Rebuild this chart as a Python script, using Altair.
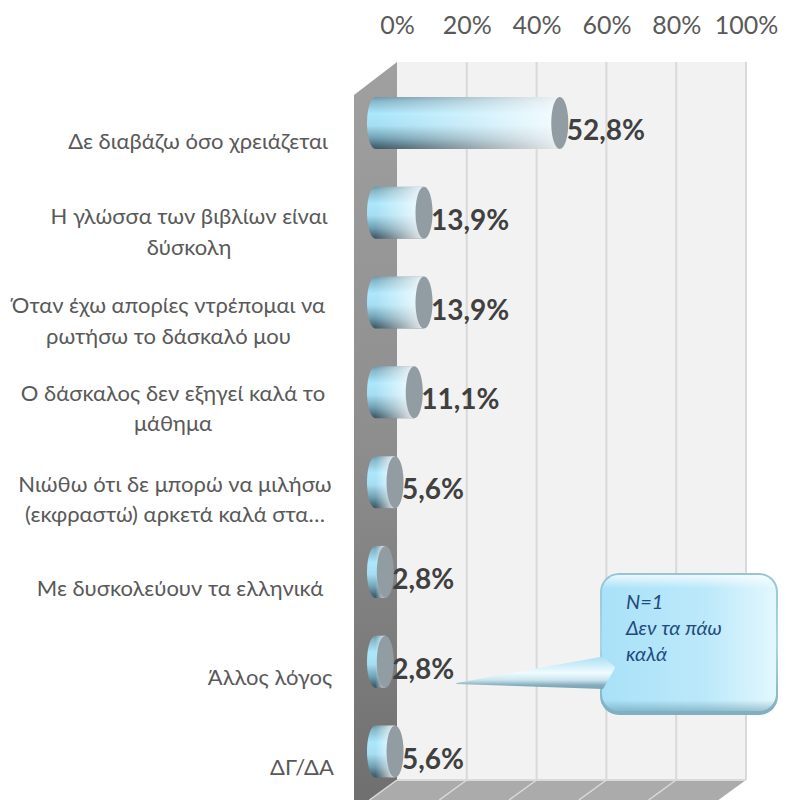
import altair as alt
import pandas as pd

# ---------- data ----------
categories = ["Δε διαβάζω όσο χρειάζεται", "Η γλώσσα των βιβλίων είναι δύσκολη",
              "Όταν έχω απορίες ντρέπομαι να ρωτήσω το δάσκαλό μου",
              "Ο δάσκαλος δεν εξηγεί καλά το μάθημα",
              "Νιώθω ότι δε μπορώ να μιλήσω (εκφραστώ) αρκετά καλά στα…",
              "Με δυσκολεύουν τα ελληνικά", "Άλλος λόγος", "ΔΓ/ΔΑ"]
values = [52.8, 13.9, 13.9, 11.1, 5.6, 2.8, 2.8, 5.6]
value_labels = ["52,8%", "13,9%", "13,9%", "11,1%", "5,6%", "2,8%", "2,8%", "5,6%"]
ticks = [0, 20, 40, 60, 80, 100]
label_lines = ["Δε διαβάζω όσο χρειάζεται", "Η γλώσσα των βιβλίων είναι", "δύσκολη",
               "Όταν έχω απορίες ντρέπομαι να", "ρωτήσω το δάσκαλό μου",
               "Ο δάσκαλος δεν εξηγεί καλά το", "μάθημα",
               "Νιώθω ότι δε μπορώ να μιλήσω", "(εκφραστώ) αρκετά καλά στα…",
               "Με δυσκολεύουν τα ελληνικά", "Άλλος λόγος", "ΔΓ/ΔΑ"]
callout_lines = ["N=1", "Δεν τα πάω", "καλά"]

# ---------- layout (page pixels, converted below) ----------
line_cx = [198, 189, 189, 168.5, 168.5, 173, 173, 175, 175, 180, 270, 302]
line_cy = [142, 217, 248, 306, 337, 394, 424, 485, 515, 589, 678, 768]
callout_cy = [603, 629, 655]
TOP, LEFT = 62, 8
PXW = 770
PPU = 3.49
ZERO = 397
BOTTOM = 800
W, H = PXW, BOTTOM - TOP
x_scale = alt.Scale(domain=[(LEFT - ZERO) / PPU, (LEFT + PXW - ZERO) / PPU], nice=False, zero=False)
y_scale = alt.Scale(type="point", domain=categories, range=[123 - TOP, 751.5 - TOP], padding=0)
def pct(px): return (px - ZERO) / PPU
FONT = "Lato, Noto Sans, sans-serif"
BAR_SHIFT = -21.5

def grad(stops, horiz=False):
    return alt.Gradient(gradient="linear",
                        stops=[alt.GradientStop(color=c, offset=o) for o, c in stops],
                        x1=0, x2=1 if horiz else 0, y1=0, y2=0 if horiz else 1)

df = pd.DataFrame({"cat": categories, "val": values, "lab": value_labels})
fd = (BOTTOM - 780) * 40 / 29
tick_df = pd.DataFrame({"t": ticks, "t2": [t - fd / PPU for t in ticks]})

X = lambda f: alt.X(f, scale=x_scale, axis=None)
YC = alt.Y("cat:N", scale=y_scale, axis=None)
YP = lambda f: alt.Y(f, scale=None, axis=None)

# back wall with top axis
wall_df = pd.DataFrame({"a": [0], "b": [100]})
wall = alt.Chart(wall_df).mark_rect(color="#F2F2F2").encode(
    x=alt.X("a:Q", scale=x_scale, axis=alt.Axis(
        orient="top", values=ticks, labelExpr="datum.value + '%'", domain=False, ticks=False,
        grid=False, labelFont=FONT, labelFontSize=25, labelColor="#595959", labelPadding=24, title=None,
        labelFlush=False, labelOverlap=False)),
    x2="b:Q", y=alt.value(0), y2=alt.value(780 - TOP))

grid = alt.Chart(tick_df[tick_df.t > 0]).mark_rule(color="#D9D9D9", strokeWidth=2).encode(
    x=X("t:Q"), y=alt.value(0), y2=alt.value(780 - TOP))

# left wall
lw_df = pd.DataFrame({"x": [pct(354), 0], "y": [95 - TOP, 0], "y2": [813 - TOP, 780 - TOP]})
left_wall = alt.Chart(lw_df).mark_area(
    orient="vertical",
    fill=grad([(0, "#A0A0A0"), (0.5, "#8E8E8E"), (1, "#6E6E6E")])).encode(
    x=X("x:Q"), y=YP("y:Q"), y2="y2:Q")

# floor
fl_df = pd.DataFrame({"y": [780 - TOP, BOTTOM - TOP], "a": [0, -fd / PPU], "b": [100, 100 - fd / PPU]})
floor = alt.Chart(fl_df).mark_area(orient="horizontal", color="#ABABAB").encode(
    y=YP("y:Q"), x=X("a:Q"), x2="b:Q")
floor_lines = alt.Chart(tick_df[tick_df.t < 100]).mark_rule(color="#DADADA", strokeWidth=1.5).encode(
    x=X("t:Q"), x2="t2:Q", y=alt.value(780 - TOP), y2=alt.value(BOTTOM - TOP))
floor_edge = alt.Chart(wall_df).mark_rule(color="#DADADA", strokeWidth=2).encode(
    x=X("a:Q"), x2="b:Q", y=alt.value(780 - TOP))

# cylinders
V_STOPS = [(0, "#6E97A8"), (0.08, "#86B7CA"), (0.32, "#ABE7FC"), (0.55, "#A5DEF2"),
           (0.8, "#6E9DB0"), (0.93, "#4A6B7A"), (1, "#3E5663")]
ELL = "M0,-1A0.327,1,0,1,1,0,1A0.327,1,0,1,1,0,-1Z"
left_cap = alt.Chart(df).mark_point(shape=ELL, size=2704, filled=True, opacity=1, strokeWidth=0,
                                    fill=grad(V_STOPS), xOffset=BAR_SHIFT).encode(
    x=alt.X("z:Q", scale=x_scale, axis=None), y=YC).transform_calculate(z="0")
body = alt.Chart(df).mark_bar(height=52, fill=grad(V_STOPS), xOffset=BAR_SHIFT, x2Offset=BAR_SHIFT).encode(
    x=X("val:Q"), y=YC)
sheen = alt.Chart(df).mark_bar(height=52, xOffset=BAR_SHIFT, x2Offset=BAR_SHIFT,
                               fill=grad([(0, "rgba(255,255,255,0)"), (1, "rgba(255,255,255,0.88)")], horiz=True)).encode(
    x=X("val:Q"), y=YC)
cap = alt.Chart(df).mark_point(shape=ELL, size=2704, filled=True, opacity=1, strokeWidth=0,
                               fill="#919CA3", xOffset=BAR_SHIFT).encode(x=X("val:Q"), y=YC)
val_text = alt.Chart(df).mark_text(align="left", baseline="middle", font=FONT, fontSize=28, fontWeight="bold",
                                   color="#404040", xOffset=BAR_SHIFT, dx=7, dy=9).encode(
    x=X("val:Q"), y=YC, text="lab:N")

# category labels
ln_df = pd.DataFrame({"s": label_lines, "cx": [c - LEFT for c in line_cx], "cy": [c - TOP for c in line_cy]})
cat_text = alt.Chart(ln_df).mark_text(align="center", baseline="middle", font=FONT, fontSize=22,
                                      color="#595959").encode(
    x=alt.X("cx:Q", scale=None, axis=None), y=YP("cy:Q"), text="s:N")

# callout
box_outer = alt.Chart(wall_df).mark_rect(cornerRadius=19,
    fill=grad([(0, "#96C4D6"), (0.5, "#A5D5E6"), (1, "#7FAEC0")])).encode(
    x=alt.value(600 - LEFT), x2=alt.value(PXW), y=alt.value(573 - TOP), y2=alt.value(715 - TOP))
box_inner = alt.Chart(wall_df).mark_rect(cornerRadius=17,
    fill=grad([(0, "#A9E1F8"), (0.6, "#BCE9FA"), (1, "#E2F7FD")], horiz=True)).encode(
    x=alt.value(602 - LEFT), x2=alt.value(PXW - 2), y=alt.value(575 - TOP), y2=alt.value(711 - TOP))
box_sheen = alt.Chart(wall_df).mark_rect(cornerRadius=17,
    fill=grad([(0, "rgba(255,255,255,0.75)"), (0.1, "rgba(255,255,255,0)"),
               (0.92, "rgba(70,120,140,0)"), (1, "rgba(70,120,140,0.4)")])).encode(
    x=alt.value(602 - LEFT), x2=alt.value(PXW - 2), y=alt.value(575 - TOP), y2=alt.value(711 - TOP))
tail_df = pd.DataFrame({"x": [pct(456.5), pct(603), pct(615)],
                        "y": [683 - TOP, 656.5 - TOP, 667 - TOP],
                        "y2": [684 - TOP, 689 - TOP, 668 - TOP]})
tail = alt.Chart(tail_df).mark_area(orient="vertical",
    fill=grad([(0, "#A9DFF3"), (0.5, "#F0FBFF"), (0.72, "#CBE6F0"), (0.88, "#86ADBD"), (1, "#7AA3B4")])).encode(
    x=X("x:Q"), y=YP("y:Q"), y2="y2:Q")
cl_df = pd.DataFrame({"s": callout_lines, "cy": [c - TOP for c in callout_cy]})
call_text = alt.Chart(cl_df).mark_text(align="left", baseline="middle", font=FONT, fontSize=20,
                                       fontStyle="italic", color="#1F497D").encode(
    x=alt.value(626 - LEFT), y=YP("cy:Q"), text="s:N")

chart = alt.layer(wall, grid, left_wall, floor, floor_lines, floor_edge, left_cap, body, sheen, cap,
                  val_text, cat_text, box_outer, box_inner, box_sheen, tail, call_text).resolve_scale(
    y="independent").resolve_axis(x="independent", y="independent").properties(
    width=W, height=H, padding={"left": 0, "right": 0, "top": TOP - LEFT, "bottom": 0},
    autosize=alt.AutoSizeParams(type="none"),
    background="white").configure_view(stroke=None)

chart.save("out.html", embed_options={"renderer": "svg", "actions": False})
